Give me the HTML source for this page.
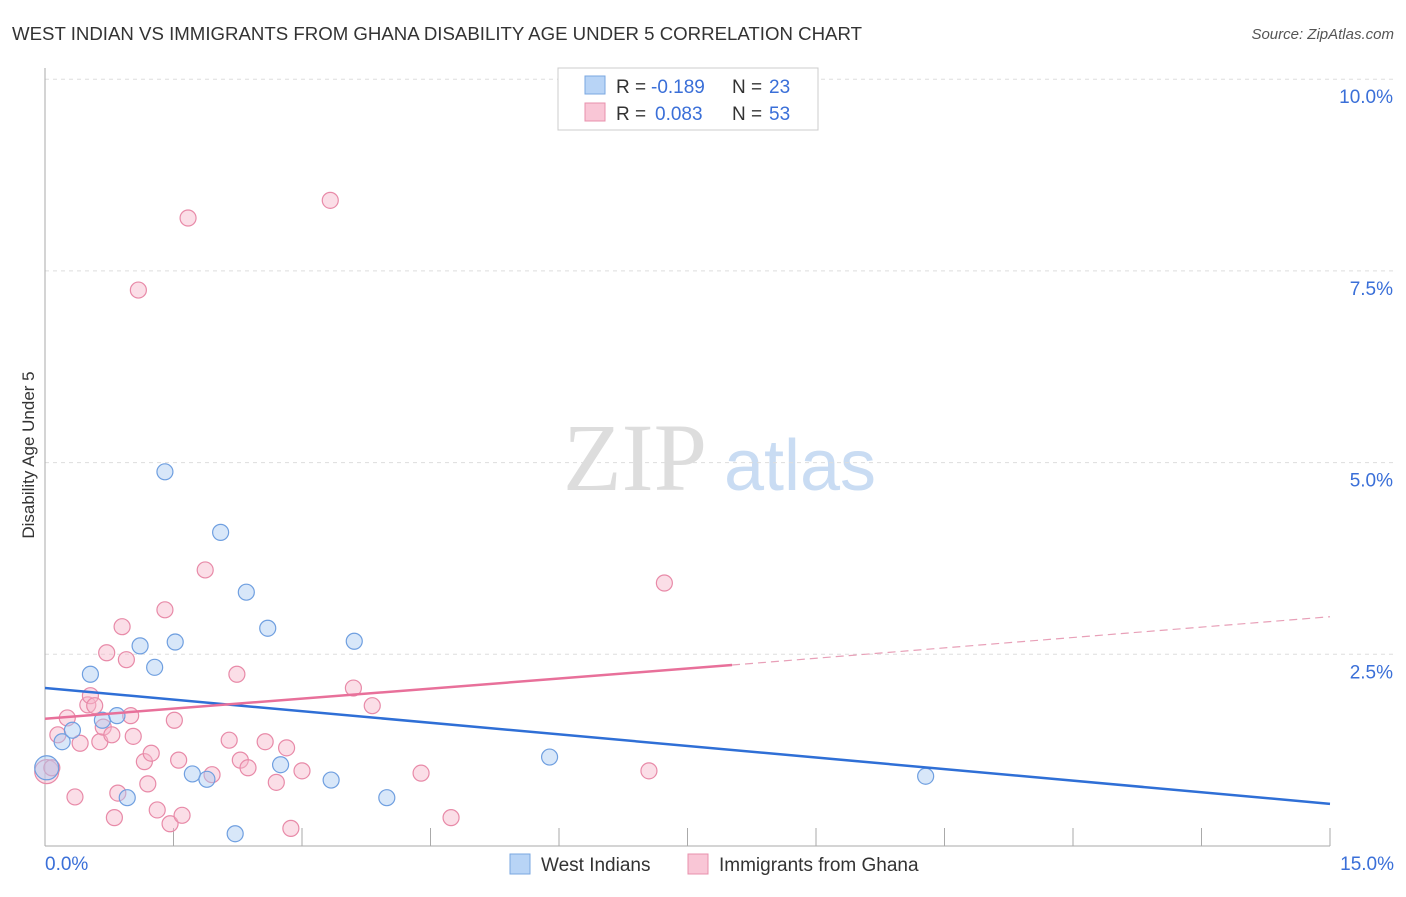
<!DOCTYPE html>
<html><head><meta charset="utf-8">
<style>
body{margin:0;background:#fff;font-family:"Liberation Sans",sans-serif;}
#wrap{position:relative;width:1406px;height:892px;}
</style></head>
<body>
<div id="wrap">
<svg id="svg" width="1406" height="892" xmlns="http://www.w3.org/2000/svg">
<text x="12" y="40" font-size="18" fill="#333" textLength="850" lengthAdjust="spacingAndGlyphs">WEST INDIAN VS IMMIGRANTS FROM GHANA DISABILITY AGE UNDER 5 CORRELATION CHART</text>
<text x="1394" y="39" font-size="15" fill="#555" text-anchor="end" font-style="italic">Source: ZipAtlas.com</text>
<text x="34" y="455" font-size="17" fill="#333" text-anchor="middle" transform="rotate(-90 34 455)">Disability Age Under 5</text>
<g>
<text x="635" y="490" font-size="96" fill="#ddd" font-family="Liberation Serif" text-anchor="middle">ZIP</text>
<text x="800" y="490" font-size="72" fill="#c9dcf3" text-anchor="middle">atlas</text>
</g>
<g id="grid"></g>
<g id="marks"></g>
<g>
<rect x="558" y="68" width="260" height="62" fill="#fff" stroke="#ccc"/>
<rect x="585" y="76" width="20" height="18" fill="#b8d4f6" stroke="#7aa7e0"/>
<text x="616" y="93" font-size="19" fill="#333">R =</text>
<text x="651" y="93" font-size="19" fill="#3a6fd8">-0.189</text>
<text x="732" y="93" font-size="19" fill="#333">N =</text>
<text x="769" y="93" font-size="19" fill="#3a6fd8">23</text>
<rect x="585" y="103" width="20" height="18" fill="#f9c6d6" stroke="#e890ac"/>
<text x="616" y="120" font-size="19" fill="#333">R =</text>
<text x="655" y="120" font-size="19" fill="#3a6fd8">0.083</text>
<text x="732" y="120" font-size="19" fill="#333">N =</text>
<text x="769" y="120" font-size="19" fill="#3a6fd8">53</text>
</g>
<g>
<rect x="510" y="854" width="20" height="20" fill="#b8d4f6" stroke="#7aa7e0"/>
<text x="541" y="871" font-size="19" fill="#333">West Indians</text>
<rect x="688" y="854" width="20" height="20" fill="#f9c6d6" stroke="#e890ac"/>
<text x="719" y="871" font-size="19" fill="#333">Immigrants from Ghana</text>
</g>
</svg>
</div>
<script>
const yTicks=[2.5,5.0,7.5,10.0];
const yTickLabels=["2.5%","5.0%","7.5%","10.0%"];
const xTickLabels=["0.0%","15.0%"];
const blueX=[0.02,0.20,0.32,0.53,0.67,0.84,0.96,1.11,1.28,1.40,1.52,1.72,1.89,2.05,2.22,2.35,2.60,2.75,3.34,3.61,3.99,5.89,10.28];
const blueY=[1.02,1.36,1.51,2.24,1.64,1.70,0.63,2.61,2.33,4.88,2.66,0.94,0.87,4.09,0.16,3.31,2.84,1.06,0.86,2.67,0.63,1.16,0.91];
const pinkX=[0.02,0.08,0.15,0.26,0.35,0.41,0.50,0.53,0.58,0.64,0.68,0.72,0.78,0.85,0.81,0.90,0.95,1.00,1.03,1.09,1.16,1.20,1.24,1.31,1.40,1.46,1.51,1.56,1.60,1.67,1.87,1.95,2.15,2.24,2.28,2.37,2.57,2.70,2.82,2.87,3.00,3.33,3.60,3.82,4.39,4.74,7.05,7.23];
const pinkY=[0.97,1.02,1.45,1.67,0.64,1.34,1.84,1.96,1.83,1.36,1.55,2.52,1.45,0.69,0.37,2.86,2.43,1.70,1.43,7.25,1.10,0.81,1.21,0.47,3.08,0.29,1.64,1.12,0.40,8.19,3.60,0.93,1.38,2.24,1.12,1.02,1.36,0.83,1.28,0.23,0.98,8.42,2.06,1.83,0.95,0.37,0.98,3.43];
const blueTrend=[2.06,0.55];
const pinkTrend=[1.66,2.36,2.99];
const pinkSolidEnd=8.02;

const X=v=>45+v/15*1285;
const Y=v=>846-v/2.5*191.7;
const NS="http://www.w3.org/2000/svg";
function mk(tag,attrs,parent){const e=document.createElementNS(NS,tag);for(const k in attrs)e.setAttribute(k,attrs[k]);parent.appendChild(e);return e;}
const grid=document.getElementById('grid'),marks=document.getElementById('marks');
yTicks.forEach((t,i)=>{
 const l=mk('line',{x1:45,x2:1394,y1:Y(t),y2:Y(t),stroke:'#ddd','stroke-dasharray':'4,4'},grid);
 
 
 const tx=mk('text',{x:1393,y:Y(t)+24,'font-size':19,fill:'#3a6fd8','text-anchor':'end'},grid);
 tx.textContent=yTickLabels[i];
 
 
});
const ax=mk('line',{x1:45,x2:1330,y1:846,y2:846,stroke:'#aaa'},grid);


const ay=mk('line',{x1:45,x2:45,y1:68,y2:846,stroke:'#aaa'},grid);


for(let i=0;i<=10;i++){
 const tk=mk('line',{x1:X(i*1.5),x2:X(i*1.5),y1:828,y2:846,stroke:'#aaa'},grid);
 
 
}
[[0,'start',45],[15,'end',1394]].forEach((d,i)=>{
 const t=mk('text',{x:d[2],y:870,'font-size':19,fill:'#3a6fd8','text-anchor':d[1]},grid);
 t.textContent=xTickLabels[i];
 
 
});
function dots(xs,ys,fill,stroke,name){
 xs.forEach((x,i)=>{
  const c=mk('circle',{cx:X(x),cy:Y(ys[i]),r:i===0?12:8,fill:fill,'fill-opacity':0.45,stroke:stroke,'stroke-width':1.2},marks);
  
  
 });
}
dots(pinkX,pinkY,'#f7b5c9','#e88aa8','ghana-point');
dots(blueX,blueY,'#a9c9f2','#6f9fe0','west-indian-point');
const bl=mk('line',{x1:X(0),y1:Y(blueTrend[0]),x2:X(15),y2:Y(blueTrend[1]),stroke:'#2f6fd6','stroke-width':2.5},marks);


const pl=mk('line',{x1:X(0),y1:Y(pinkTrend[0]),x2:X(pinkSolidEnd),y2:Y(pinkTrend[1]),stroke:'#e8709a','stroke-width':2.5},marks);


const pd=mk('line',{x1:X(pinkSolidEnd),y1:Y(pinkTrend[1]),x2:X(15),y2:Y(pinkTrend[2]),stroke:'#e8a0b8','stroke-width':1.2,'stroke-dasharray':'8,5'},marks);


</script>
</body></html>
